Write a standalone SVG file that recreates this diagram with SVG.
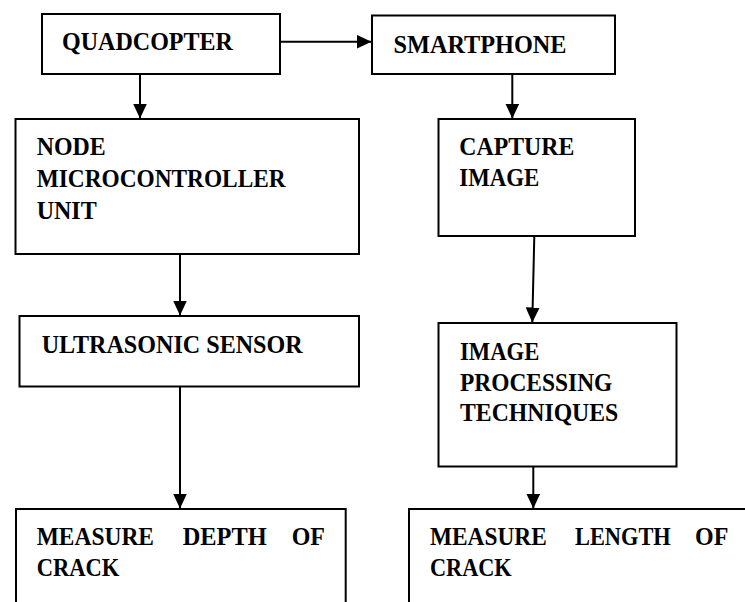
<svg xmlns="http://www.w3.org/2000/svg" width="745" height="602" viewBox="0 0 745 602">
<style>
.box{fill:#fff;stroke:#000;stroke-width:2}
.t{font-family:"Liberation Serif","Times New Roman",serif;font-weight:bold;font-size:25px;fill:#000}
.c{stroke:#000;stroke-width:2;fill:none;marker-end:url(#arr)}
</style>
<defs>
<marker id="arr" viewBox="0 0 15 14" refX="15" refY="7" markerWidth="15" markerHeight="14" markerUnits="userSpaceOnUse" orient="auto">
<path d="M0,0 L15,7 L0,14 z" fill="#000"/>
</marker>
</defs>
<rect width="745" height="602" fill="#fff"/>
<g id="quadcopter">
<rect class="box" x="42" y="14" width="238" height="60"/>
<text class="t" x="62" y="50" textLength="171" lengthAdjust="spacingAndGlyphs">QUADCOPTER</text>
</g>
<g id="smartphone">
<rect class="box" x="372" y="15.5" width="243" height="58.5"/>
<text class="t" x="393.5" y="53" textLength="173" lengthAdjust="spacingAndGlyphs">SMARTPHONE</text>
</g>
<g id="nodemcu">
<rect class="box" x="15.5" y="119" width="343.5" height="135"/>
<text class="t" x="36.7" y="155" textLength="69" lengthAdjust="spacingAndGlyphs">NODE</text>
<text class="t" x="36.7" y="186.7" textLength="249" lengthAdjust="spacingAndGlyphs">MICROCONTROLLER</text>
<text class="t" x="36.7" y="219.3" textLength="60" lengthAdjust="spacingAndGlyphs">UNIT</text>
</g>
<g id="capture">
<rect class="box" x="438.5" y="119" width="196.5" height="117"/>
<text class="t" x="459.3" y="155" textLength="115" lengthAdjust="spacingAndGlyphs">CAPTURE</text>
<text class="t" x="459.3" y="186" textLength="80" lengthAdjust="spacingAndGlyphs">IMAGE</text>
</g>
<g id="ultrasonic">
<rect class="box" x="19.5" y="316" width="339.5" height="70.5"/>
<text class="t" x="41.7" y="353.3" textLength="261" lengthAdjust="spacingAndGlyphs">ULTRASONIC SENSOR</text>
</g>
<g id="imageprocessing">
<rect class="box" x="438.5" y="323" width="238" height="143.5"/>
<text class="t" x="460" y="359.5" textLength="79.3" lengthAdjust="spacingAndGlyphs">IMAGE</text>
<text class="t" x="460" y="390.8" textLength="152.3" lengthAdjust="spacingAndGlyphs">PROCESSING</text>
<text class="t" x="460" y="420.7" textLength="158.3" lengthAdjust="spacingAndGlyphs">TECHNIQUES</text>
</g>
<g id="depth">
<rect class="box" x="16" y="509" width="329.7" height="120"/>
<text class="t" x="36.7" y="545" textLength="117.3" lengthAdjust="spacingAndGlyphs">MEASURE</text>
<text class="t" x="182.7" y="545" textLength="84" lengthAdjust="spacingAndGlyphs">DEPTH</text>
<text class="t" x="291.7" y="545" textLength="33.3" lengthAdjust="spacingAndGlyphs">OF</text>
<text class="t" x="36.7" y="576" textLength="82.7" lengthAdjust="spacingAndGlyphs">CRACK</text>
</g>
<g id="length">
<rect class="box" x="409" y="509" width="360" height="120"/>
<text class="t" x="430" y="545" textLength="116.7" lengthAdjust="spacingAndGlyphs">MEASURE</text>
<text class="t" x="575" y="545" textLength="95.7" lengthAdjust="spacingAndGlyphs">LENGTH</text>
<text class="t" x="695" y="545" textLength="33.3" lengthAdjust="spacingAndGlyphs">OF</text>
<text class="t" x="430" y="576" textLength="81.7" lengthAdjust="spacingAndGlyphs">CRACK</text>
</g>
<g id="connectors">
<line class="c" x1="280" y1="41.7" x2="371.5" y2="41.7"/>
<line class="c" x1="140" y1="74" x2="140" y2="118.5"/>
<line class="c" x1="512.3" y1="74" x2="512.3" y2="118.5"/>
<line class="c" x1="180" y1="254" x2="180" y2="315.5"/>
<line class="c" x1="534.3" y1="236" x2="532.3" y2="322.5"/>
<line class="c" x1="180" y1="386.5" x2="180" y2="508.5"/>
<line class="c" x1="533.3" y1="466.5" x2="533.3" y2="508.5"/>
</g>
</svg>
